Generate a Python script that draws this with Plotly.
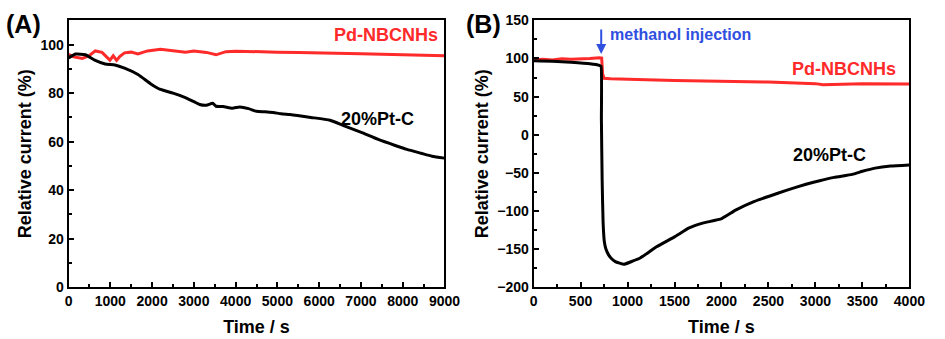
import plotly.graph_objects as go
from plotly.subplots import make_subplots

# ---------------- Data ----------------
# Panel A (long-term stability)
a_pd_t = [0, 120, 330, 500, 640, 800, 990, 1070, 1150, 1230, 1340, 1500, 1660, 1890, 2200,
          2400, 2600, 2800, 3000, 3300, 3530, 3770, 4000, 4550, 5000, 5500, 6000, 6500,
          7000, 7500, 8000, 8500, 9000]
a_pd_v = [96.0, 95.0, 94.3, 95.5, 97.4, 96.8, 93.6, 95.4, 93.5, 95.2, 96.6, 96.9, 96.2, 97.4, 98.1,
          97.6, 97.1, 96.9, 97.4, 96.8, 95.8, 97.1, 97.3, 97.0, 96.9, 96.8, 96.5, 96.4,
          96.2, 96.0, 95.9, 95.7, 95.4]

a_pt_t = [0, 170, 400, 640, 875, 1110, 1340, 1660, 1970, 2200, 2500, 2750, 3000, 3140, 3300,
          3450, 3530, 3700, 3920, 4100, 4310, 4500, 4700, 4900, 5090, 5300, 5480, 5800,
          6260, 6600, 7040, 7400, 7820, 8100, 8440, 8700, 9000]
a_pt_v = [94.5, 96.1, 95.8, 93.5, 92.0, 91.6, 90.3, 87.7, 83.8, 81.5, 80.0, 78.5, 76.5, 75.3, 75.0,
          75.8, 74.6, 74.5, 73.8, 74.3, 73.6, 72.5, 72.3, 72.0, 71.5, 71.2, 70.8, 70.0,
          68.8, 66.5, 63.6, 61.0, 58.4, 56.8, 55.2, 54.0, 53.2]

# Panel B (methanol injection)
b_pd_t = [0, 100, 200, 300, 400, 500, 600, 700, 725, 735, 750, 820, 1000, 1200, 1500,
          2000, 2500, 3000, 3080, 3500, 4000]
b_pd_v = [98.0, 99.0, 98.0, 99.5, 99.0, 99.2, 100.0, 101.0, 100.5, 80.0, 74.0, 73.5, 72.5, 72.0, 71.0,
          70.0, 69.0, 67.0, 65.5, 67.0, 66.5]

b_pt_t = [0, 200, 400, 600, 700, 718, 722, 730, 740, 753, 770, 800, 823, 870, 962, 1050,
          1135, 1309, 1500, 1656, 1800, 2003, 2150, 2351, 2500, 2698, 2900, 3045, 3200,
          3392, 3500, 3635, 3800, 4000]
b_pt_v = [97.0, 96.5, 95.0, 93.0, 91.0, 90.0, 20.0, -60.0, -115.0, -140.0, -150.0, -158.0, -161.7,
          -166.5, -170.0, -166.0, -161.7, -147.0, -134.0, -122.3, -116.0, -110.0, -99.0, -87.5,
          -81.0, -72.7, -65.0, -60.3, -56.0, -52.0, -48.0, -43.8, -41.0, -39.6]

RED = "#ff2a2a"
BLUE = "#2f4fe0"
FONT = "Liberation Sans, Arial, sans-serif"

fig = make_subplots(rows=1, cols=2)

fig.add_trace(go.Scatter(x=a_pd_t, y=a_pd_v, mode="lines", line=dict(color=RED, width=3),
                         name="Pd-NBCNHs"), row=1, col=1)
fig.add_trace(go.Scatter(x=a_pt_t, y=a_pt_v, mode="lines",
                         line=dict(color="black", width=3, shape="spline", smoothing=0.5),
                         name="20%Pt-C"), row=1, col=1)
fig.add_trace(go.Scatter(x=b_pd_t, y=b_pd_v, mode="lines", line=dict(color=RED, width=3),
                         name="Pd-NBCNHs"), row=1, col=2)
fig.add_trace(go.Scatter(x=b_pt_t, y=b_pt_v, mode="lines",
                         line=dict(color="black", width=3, shape="spline", smoothing=0.4),
                         name="20%Pt-C"), row=1, col=2)

tickfont = dict(family=FONT, size=14, color="black", weight="bold")
titlefont = dict(family=FONT, size=18, color="black", weight="bold")

common = dict(showline=True, linecolor="black", linewidth=2, mirror=True,
              ticks="inside", ticklen=5, tickwidth=2, tickcolor="black",
              showgrid=False, zeroline=False, tickfont=tickfont)

fig.update_xaxes(domain=[0.0698, 0.4762], range=[0, 9000], dtick=1000,
                 minor=dict(ticks="inside", ticklen=3, tickwidth=2, dtick=500, tickcolor="black"),
                 title=dict(text="Time / s", font=titlefont, standoff=12), **common, row=1, col=1)
fig.update_yaxes(domain=[0.1357, 0.9617], range=[0, 110], tickvals=[0, 20, 40, 60, 80, 100],
                 minor=dict(ticks="inside", ticklen=3, tickwidth=2,
                            tickvals=[10, 30, 50, 70, 90], tickcolor="black"),
                 title=dict(text="Relative current (%)", font=titlefont, standoff=4),
                 **common, row=1, col=1)
fig.update_xaxes(domain=[0.5725, 0.9788], range=[0, 4000], dtick=500,
                 minor=dict(ticks="inside", ticklen=3, tickwidth=2, dtick=250, tickcolor="black"),
                 title=dict(text="Time / s", font=titlefont, standoff=12), **common, row=1, col=2)
fig.update_yaxes(domain=[0.1357, 0.9617], range=[-200, 150], dtick=50,
                 minor=dict(ticks="inside", ticklen=3, tickwidth=2, dtick=25, tickcolor="black"),
                 title=dict(text="Relative current (%)", font=titlefont, standoff=4),
                 **common, row=1, col=2)

labfont = dict(family=FONT, size=18, weight="bold")
ann = [
    dict(text="(A)", x=0.0, y=1.0, xref="paper", yref="paper", xanchor="left", yanchor="top",
         font=dict(family=FONT, size=25, weight="bold", color="black"), showarrow=False),
    dict(text="(B)", x=470 / 945, y=1.0, xref="paper", yref="paper", xanchor="left", yanchor="top",
         font=dict(family=FONT, size=25, weight="bold", color="black"), showarrow=False),
    dict(text="Pd-NBCNHs", x=7600, y=104, xref="x", yref="y", showarrow=False,
         font=dict(labfont, color=RED)),
    dict(text="20%Pt-C", x=7400, y=69.5, xref="x", yref="y", showarrow=False,
         font=dict(labfont, color="black")),
    dict(text="Pd-NBCNHs", x=3300, y=86, xref="x2", yref="y2", showarrow=False,
         font=dict(labfont, color=RED)),
    dict(text="20%Pt-C", x=3150, y=-27, xref="x2", yref="y2", showarrow=False,
         font=dict(labfont, color="black")),
    dict(text="methanol injection", x=1560, y=131, xref="x2", yref="y2", xanchor="center",
         showarrow=False, font=dict(family=FONT, size=16, weight="bold", color=BLUE)),
    dict(text="", x=720, y=106, ax=720, ay=140, xref="x2", yref="y2", axref="x2", ayref="y2",
         showarrow=True, arrowhead=2, arrowsize=1, arrowwidth=2, arrowcolor=BLUE),
]

fig.update_layout(width=945, height=339, margin=dict(l=0, r=0, t=0, b=0),
                  paper_bgcolor="white", plot_bgcolor="white", showlegend=False,
                  annotations=ann)

fig.write_html("out.html")
